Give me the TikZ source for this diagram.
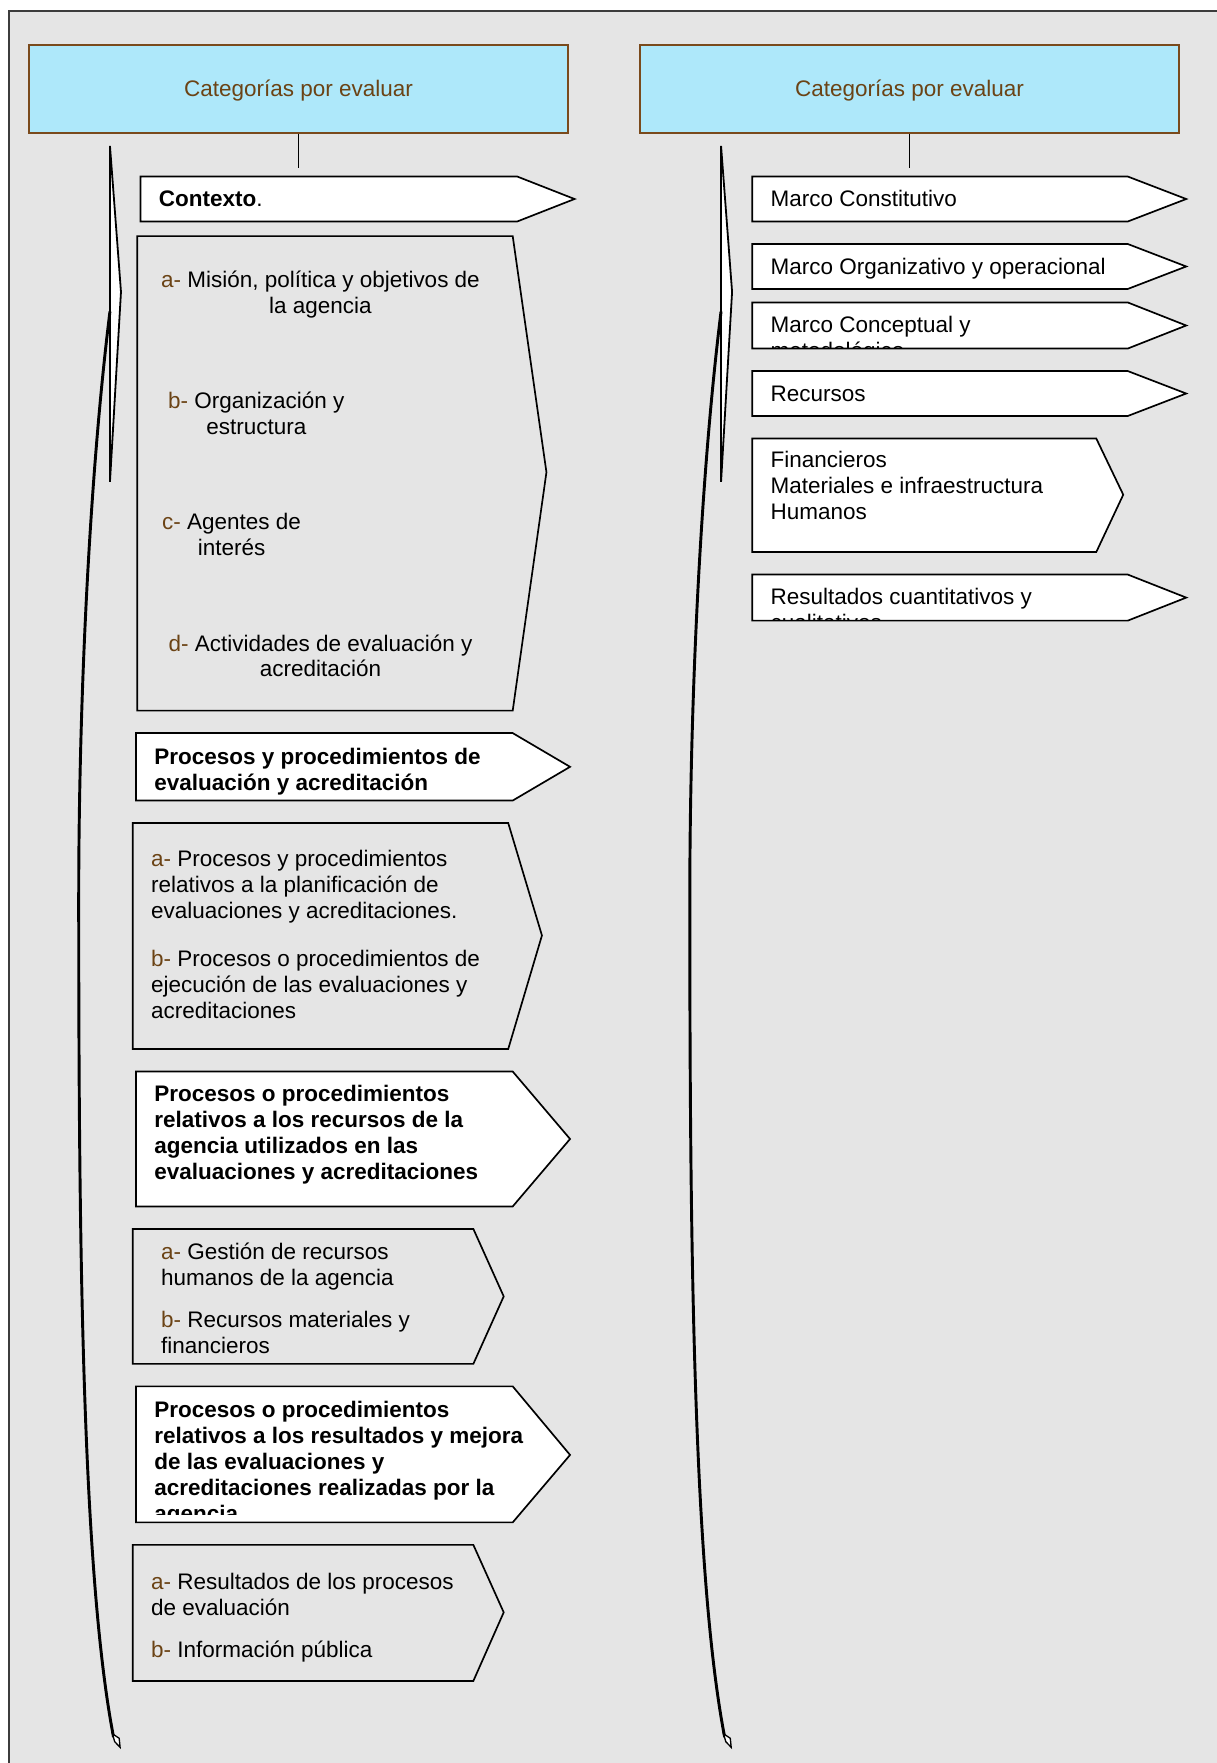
\documentclass[tikz,border=0pt]{standalone}
\usepackage{fontspec}
\setmainfont{Liberation Sans}
\usepackage{xcolor}
\usepackage{tikz}
\usetikzlibrary{positioning}
\definecolor{catfill}{HTML}{AEE8FA}
\definecolor{catline}{HTML}{7A4A1C}
\definecolor{catbrown}{HTML}{6B4315}
\definecolor{paper}{HTML}{E5E5E5}
\definecolor{frame}{HTML}{3C3C3C}
\newcommand{\bodyfont}{\fontsize{10}{11.5}\selectfont}
\newcommand{\itemlbl}[1]{\textcolor{catbrown}{#1-}\ }

\begin{document}
\begin{tikzpicture}[x=0.5pt, y=-0.5pt,
  cat/.style={draw=catline, fill=catfill, line width=0.8pt, minimum width=239.5pt,
              minimum height=39pt, text=catbrown, font=\bodyfont,
              text height=7.2pt, text depth=0pt},
  tag/.style={draw, fill=white, line width=0.75pt},
  sub/.style={draw, line width=0.75pt},
  % multi-line nodes sit on the baseline of their last line
  txt/.style={inner sep=0pt, anchor=base west, align=left, font=\bodyfont},
  ctr/.style={inner sep=0pt, anchor=base, align=center, font=\bodyfont},
  link/.style={line width=0.75pt},
  brace/.style={draw, fill=white, line width=0.8pt},
  arm/.style={line width=1.3pt}]
  \useasboundingbox (0,0) rectangle (1082,1568);
  % page and frame
  \fill[paper] (8,10) rectangle (1082,1568);
  \draw[frame, line width=0.7pt] (1082,10) -- (8,10) -- (8,1568);

  % headers
  \node[cat] (catL) at (265.5,79) {Categorías por evaluar};
  \node[cat] (catR) at (809,79) {Categorías por evaluar};
  \coordinate (stemL) at (265.5,149);
  \coordinate (stemR) at (809,149);
  \draw[link] (catL) -- (stemL);
  \draw[link] (catR) -- (stemR);

  % braces
  \foreach \bx in {0,543.5} {
    \begin{scope}[shift={(\bx,0)}]
      \draw[brace] (97.8,129.8) -- (107.6,259.6) -- (97.8,428.5) -- cycle;
      \draw[arm] (97.8,277) .. controls (80,420) and (70,620) .. (70,800)
                 .. controls (70,1100) and (73,1400) .. (101,1545);
      \draw[line width=0.6pt, fill=white] (100,1542) -- (106,1546) -- (106.8,1554) -- (102,1549) -- cycle;
    \end{scope}
  }

  % left column
  \draw[tag] (125,157) -- (460,157) -- (511,177) -- (460,197) -- (125,197) -- cycle;
  \node[txt] (ctx) at (141,184) {\textbf{Contexto}.};

  \draw[sub] (122,210) -- (456,210) -- (486,420) -- (456,632) -- (122,632) -- cycle;
  \node[ctr] (ctxa) at (285,279) {\itemlbl{a}Misión, política y objetivos de\\la agencia};
  \node[ctr] (ctxb) at (228,386) {\itemlbl{b}Organización y\\estructura};
  \node[ctr] (ctxc) at (206,494) {\itemlbl{c}Agentes de\\interés};
  \node[ctr] (ctxd) at (285,602) {\itemlbl{d}Actividades de evaluación y\\acreditación};

  \draw[tag] (121,652) -- (456,652) -- (507,682) -- (456,712) -- (121,712) -- cycle;
  \node[txt, font=\bodyfont\bfseries] (proc) at (137,703)
    {Procesos y procedimientos de\\evaluación y acreditación};

  \draw[sub] (118,732) -- (452,732) -- (482,832) -- (452,933) -- (118,933) -- cycle;
  \node[txt] (proca) at (134,906)
    {\itemlbl{a}Procesos y procedimientos\\relativos a la planificación de\\evaluaciones y acreditaciones.\\[10pt]
     \itemlbl{b}Procesos o procedimientos de\\ejecución de las evaluaciones y\\acreditaciones};

  \draw[tag] (121,953) -- (456,953) -- (507,1013) -- (456,1073) -- (121,1073) -- cycle;
  \node[txt, font=\bodyfont\bfseries] (recu) at (137,1049)
    {Procesos o procedimientos\\relativos a los recursos de la\\agencia utilizados en las\\evaluaciones y acreditaciones};

  \draw[sub] (118,1093) -- (421,1093) -- (448,1153) -- (421,1213) -- (118,1213) -- cycle;
  \node[txt] (recua) at (143,1204)
    {\itemlbl{a}Gestión de recursos\\humanos de la agencia\\[7.5pt]\itemlbl{b}Recursos materiales y\\financieros};

  \draw[tag] (121,1233) -- (456,1233) -- (507,1294) -- (456,1354) -- (121,1354) -- cycle;
  \begin{scope}
    \clip (121,1233) rectangle (507,1347);
    \node[txt, font=\bodyfont\bfseries] (resu) at (137,1353)
      {Procesos o procedimientos\\relativos a los resultados y mejora\\de las evaluaciones y\\acreditaciones realizadas por la\\agencia};
  \end{scope}

  \draw[sub] (118,1374) -- (421,1374) -- (448,1434) -- (421,1495) -- (118,1495) -- cycle;
  \node[txt] (resua) at (134,1474)
    {\itemlbl{a}Resultados de los procesos\\de evaluación\\[7pt]\itemlbl{b}Información pública};

  % right column
  \foreach \t/\b in {157/197, 217/257, 269/310, 330/370, 511/552}
    \draw[tag] (669,\t) -- (1003,\t) -- (1055,{(\t+\b)/2}) -- (1003,\b) -- (669,\b) -- cycle;
  \draw[tag] (669,390) -- (975,390) -- (999,440) -- (975,491) -- (669,491) -- cycle;

  \node[txt] (mconst) at (685,184) {Marco Constitutivo};
  \node[txt] (morg) at (685,244) {Marco Organizativo y operacional};
  \begin{scope}
    \clip (669,269) rectangle (1003,310);
    \node[txt] (mconc) at (685,319) {Marco Conceptual y\\metodológico};
  \end{scope}
  \node[txt] (recs) at (685,357) {Recursos};
  \node[txt] (recl) at (685,462) {Financieros\\Materiales e infraestructura\\Humanos};
  \begin{scope}
    \clip (669,511) rectangle (1003,552);
    \node[txt] (rcq) at (685,561) {Resultados cuantitativos y\\cualitativos};
  \end{scope}
\end{tikzpicture}
\end{document}
